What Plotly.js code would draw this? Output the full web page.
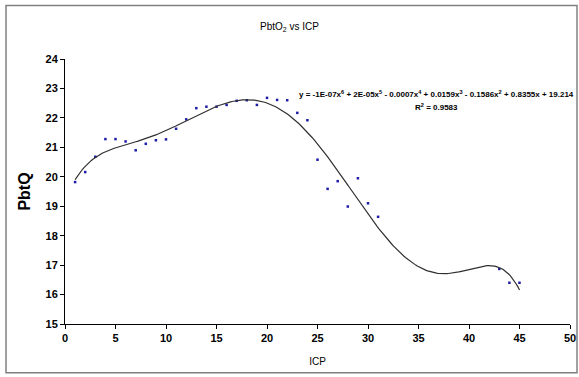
<!DOCTYPE html>
<html>
<head>
<meta charset="utf-8">
<script src="https://cdn.plot.ly/plotly-3.0.1.min.js"></script>
<style>html,body{margin:0;padding:0;background:#fff;}#chart{width:579px;height:377px;}</style>
</head>
<body>
<div id="chart"></div>
<script>
// Data
const icp = [1,2,3,4,5,6,7,8,9,10,11,12,13,14,15,16,17,18,19,20,21,22,23,24,25,26,27,28,29,30,31,43,44,45];
const pbto2 = [19.82,20.16,20.68,21.28,21.28,21.20,20.90,21.12,21.24,21.27,21.63,21.95,22.33,22.38,22.38,22.44,22.58,22.60,22.44,22.68,22.61,22.60,22.17,21.92,20.58,19.59,19.85,18.99,19.95,19.10,18.64,16.87,16.40,16.40];
const xTicks = [0,5,10,15,20,25,30,35,40,45,50];
const yTicks = [15,16,17,18,19,20,21,22,23,24];
const equationText = 'y = -1E-07x<sup>6</sup> + 2E-05x<sup>5</sup> - 0.0007x<sup>4</sup> + 0.0159x<sup>3</sup> - 0.1586x<sup>2</sup> + 0.8355x + 19.214';
const r2Text = 'R<sup>2</sup> = 0.9583';

// 6th order polynomial least-squares trendline (as Excel does), computed from the data
function polyfit(xs, ys, deg, scale) {
  const n = deg + 1;
  const A = Array.from({length: n}, () => new Array(n + 1).fill(0));
  for (let k = 0; k < xs.length; k++) {
    const t = xs[k] / scale;
    const pw = [];
    for (let i = 0; i < 2 * n; i++) pw.push(Math.pow(t, i));
    for (let i = 0; i < n; i++) {
      for (let j = 0; j < n; j++) A[i][j] += pw[i + j];
      A[i][n] += pw[i] * ys[k];
    }
  }
  for (let c = 0; c < n; c++) {
    let p = c;
    for (let r = c + 1; r < n; r++) if (Math.abs(A[r][c]) > Math.abs(A[p][c])) p = r;
    const tmp = A[c]; A[c] = A[p]; A[p] = tmp;
    for (let r = 0; r < n; r++) {
      if (r === c) continue;
      const f = A[r][c] / A[c][c];
      for (let j = c; j <= n; j++) A[r][j] -= f * A[c][j];
    }
  }
  const out = [];
  for (let i = 0; i < n; i++) out.push(A[i][n] / A[i][i]);
  return out;
}
const scale = 45;
const coef = polyfit(icp, pbto2, 6, scale);
const fitX = [], fitY = [];
const x0 = Math.min(...icp), x1 = Math.max(...icp);
for (let i = 0; i <= 300; i++) {
  const x = x0 + (x1 - x0) * i / 300;
  const t = x / scale;
  let y = 0;
  for (let j = coef.length - 1; j >= 0; j--) y = y * t + coef[j];
  fitX.push(x); fitY.push(y);
}

const tickFont = {family: 'Arial, Liberation Sans, sans-serif', size: 11, color: '#000', weight: 'bold'};

const data = [
  {x: icp, y: pbto2, type: 'scatter', mode: 'markers',
   marker: {symbol: 'square', size: 2.5, color: '#1c1ca8'}, hoverinfo: 'x+y'},
  {x: fitX, y: fitY, type: 'scatter', mode: 'lines',
   line: {color: '#303030', width: 1.2}, hoverinfo: 'skip'}
];

const layout = {
  width: 579, height: 377,
  margin: {l: 65, r: 9, t: 58.5, b: 53},
  paper_bgcolor: '#fff', plot_bgcolor: '#fff',
  showlegend: false,
  title: {text: 'PbtO<sub>2</sub> vs ICP', font: {family: 'Arial, Liberation Sans, sans-serif', size: 10, color: '#000'},
          x: 0.5, xanchor: 'center', y: 0.93, yanchor: 'middle'},
  xaxis: {range: [0, 50], tickvals: xTicks, ticktext: xTicks.map(String),
          showgrid: false, zeroline: false, showline: true, linecolor: '#000', linewidth: 1,
          ticks: 'outside', ticklen: 4, tickcolor: '#000', tickfont: tickFont,
          title: {text: 'ICP', font: {family: 'Arial, Liberation Sans, sans-serif', size: 10, color: '#000'}, standoff: 14},
          fixedrange: true},
  yaxis: {range: [15, 24], tickvals: yTicks, ticktext: yTicks.map(String),
          showgrid: false, zeroline: false, showline: true, linecolor: '#000', linewidth: 1,
          ticks: 'outside', ticklen: 4, tickcolor: '#000', tickfont: tickFont,
          title: {text: 'PbtQ', font: {family: 'Arial, Liberation Sans, sans-serif', size: 16, color: '#000', weight: 'bold'}, standoff: 10},
          fixedrange: true},
  annotations: [
    {text: equationText, xref: 'paper', yref: 'paper', x: 0.735, y: 0.868, xanchor: 'center', yanchor: 'middle',
     showarrow: false, font: {family: 'Arial, Liberation Sans, sans-serif', size: 8, color: '#000', weight: 'bold'}},
    {text: r2Text, xref: 'paper', yref: 'paper', x: 0.735, y: 0.82, xanchor: 'center', yanchor: 'middle',
     showarrow: false, font: {family: 'Arial, Liberation Sans, sans-serif', size: 8, color: '#000', weight: 'bold'}}
  ],
  shapes: [
    {type: 'rect', xref: 'paper', yref: 'paper', x0: -0.1168, x1: 1.0139, y0: -0.184, y1: 1.2015,
     line: {color: '#808080', width: 1.5}, fillcolor: 'rgba(0,0,0,0)', layer: 'below'}
  ]
};

Plotly.newPlot('chart', data, layout, {displayModeBar: false, staticPlot: true});
</script>
</body>
</html>
